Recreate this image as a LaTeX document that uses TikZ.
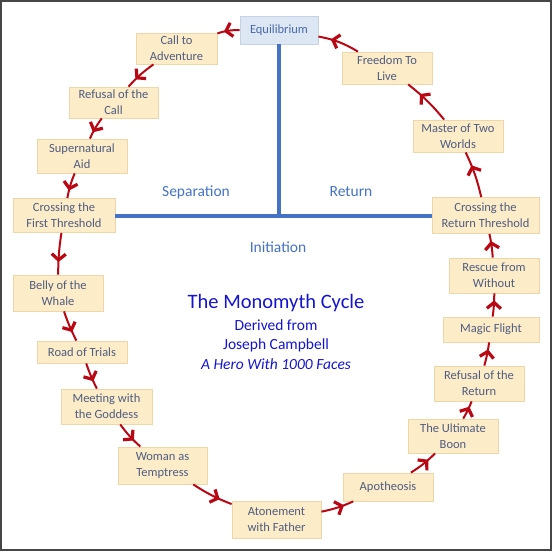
\documentclass[tikz,border=0pt]{standalone}
\usepackage{fontspec}
\setmainfont{Carlito}
\usetikzlibrary{arrows.meta,decorations.markings}
\definecolor{boxfill}{RGB}{253,236,200}
\definecolor{boxline}{RGB}{238,214,170}
\definecolor{boxtext}{RGB}{78,92,128}
\definecolor{eqfill}{RGB}{221,231,243}
\definecolor{eqline}{RGB}{196,210,230}
\definecolor{eqtext}{RGB}{72,104,168}
\definecolor{arrowred}{RGB}{185,8,20}
\definecolor{spine}{RGB}{68,114,196}
\definecolor{titleblue}{RGB}{20,20,205}
\definecolor{frame}{RGB}{70,70,70}
\tikzset{
  stage/.style={draw=boxline, fill=boxfill, line width=0.8pt, text=boxtext,
    align=center, inner sep=0pt, font=\fontsize{12.5}{16}\selectfont},
  eqbox/.style={stage, draw=eqline, fill=eqfill, text=eqtext},
  flow/.style={draw=arrowred, line width=2pt,
    postaction={decorate},
    decoration={markings, mark=at position 0.7 with {\arrow[arrowred]{Straight Barb[length=6pt,width=14pt,line width=3.2pt]}}}},
  spineline/.style={draw=spine, line width=4pt},
  phase/.style={text=spine, font=\fontsize{15.5}{18}\selectfont},
  titletext/.style={text=titleblue, align=center}
}
\begin{document}
\begin{tikzpicture}[x=1pt,y=-1pt]
\useasboundingbox (0,0) rectangle (553,553);
\draw[frame, line width=1.8pt] (1,1) rectangle (551,550);
% stages
\node[eqbox, minimum width=78pt, minimum height=28pt] (eq) at (279,30) {Equilibrium};
\node[stage, minimum width=81pt, minimum height=31pt] (call) at (176.5,48.5) {Call to\\Adventure};
\node[stage, minimum width=89pt, minimum height=31pt] (ref) at (113.5,102.5) {Refusal of the\\Call};
\node[stage, minimum width=90pt, minimum height=34pt] (sup) at (82,156) {Supernatural\\Aid};
\node[stage, minimum width=102pt, minimum height=34pt] (cft) at (64,215.5) {Crossing the\\First Threshold};
\node[stage, minimum width=90pt, minimum height=36pt] (belly) at (58,293) {Belly of the\\Whale};
\node[stage, minimum width=90pt, minimum height=22pt] (road) at (82,352) {Road of Trials};
\node[stage, minimum width=91pt, minimum height=35pt] (meet) at (106.5,406.5) {Meeting with\\the Goddess};
\node[stage, minimum width=89pt, minimum height=37pt] (woman) at (162.5,465.5) {Woman as\\Temptress};
\node[stage, minimum width=89pt, minimum height=37pt] (aton) at (276.5,520) {Atonement\\with Father};
\node[stage, minimum width=90pt, minimum height=28pt] (apo) at (388,487) {Apotheosis};
\node[stage, minimum width=90pt, minimum height=34pt] (boon) at (453,436) {The Ultimate\\Boon};
\node[stage, minimum width=90pt, minimum height=35pt] (refret) at (479,383.5) {Refusal of the\\Return};
\node[stage, minimum width=96pt, minimum height=25pt] (magic) at (491,329.5) {Magic Flight};
\node[stage, minimum width=90pt, minimum height=35pt] (rescue) at (494,275.5) {Rescue from\\Without};
\node[stage, minimum width=107pt, minimum height=36pt] (crt) at (485.5,215.5) {Crossing the\\Return Threshold};
\node[stage, minimum width=90pt, minimum height=32pt] (master) at (458,136) {Master of Two\\Worlds};
\node[stage, minimum width=90pt, minimum height=32pt] (freedom) at (387,68) {Freedom To\\Live};
% spine
\draw[spineline] (eq.south) -- (eq.south |- cft.east);
\draw[spineline] (cft.east) -- (crt.west);
% phase labels
\node[phase] (sep) at (196,192) {Separation};
\node[phase] (ret) at (351,192) {Return};
\node[phase] (ini) at (278,247) {Initiation};
% title
\node[titletext, font=\fontsize{20.5}{24}\selectfont] (title) at (276,303) {The Monomyth Cycle};
\node[titletext, font=\fontsize{15.5}{19.5}\selectfont, anchor=north] (sub) at (276,316)
  {Derived from\\Joseph Campbell\\\textit{A Hero With 1000 Faces}};
% flow
\draw[flow] (eq) to[bend right=10] (call);
\draw[flow] (call) to[bend right=6] (ref);
\draw[flow] (ref) to[bend right=6] (sup);
\draw[flow] (sup) to[bend right=6] (cft);
\draw[flow] (cft) to[bend right=4] (belly);
\draw[flow] (belly) to[bend right=4] (road);
\draw[flow] (road) to[bend right=4] (meet);
\draw[flow] (meet) to[bend right=6] (woman);
\draw[flow] (woman) to[bend right=6] (aton);
\draw[flow] (aton) to[bend right=6] (apo);
\draw[flow] (apo) to[bend right=6] (boon);
\draw[flow] (boon) to[bend right=4] (refret);
\draw[flow] (refret) to[bend right=4] (magic);
\draw[flow] (magic) to[bend right=4] (rescue);
\draw[flow] (rescue) to[bend right=4] (crt);
\draw[flow] (crt) to[bend right=6] (master);
\draw[flow] (master) to[bend right=6] (freedom);
\draw[flow] (freedom) to[bend right=10] (eq);
\end{tikzpicture}
\end{document}
